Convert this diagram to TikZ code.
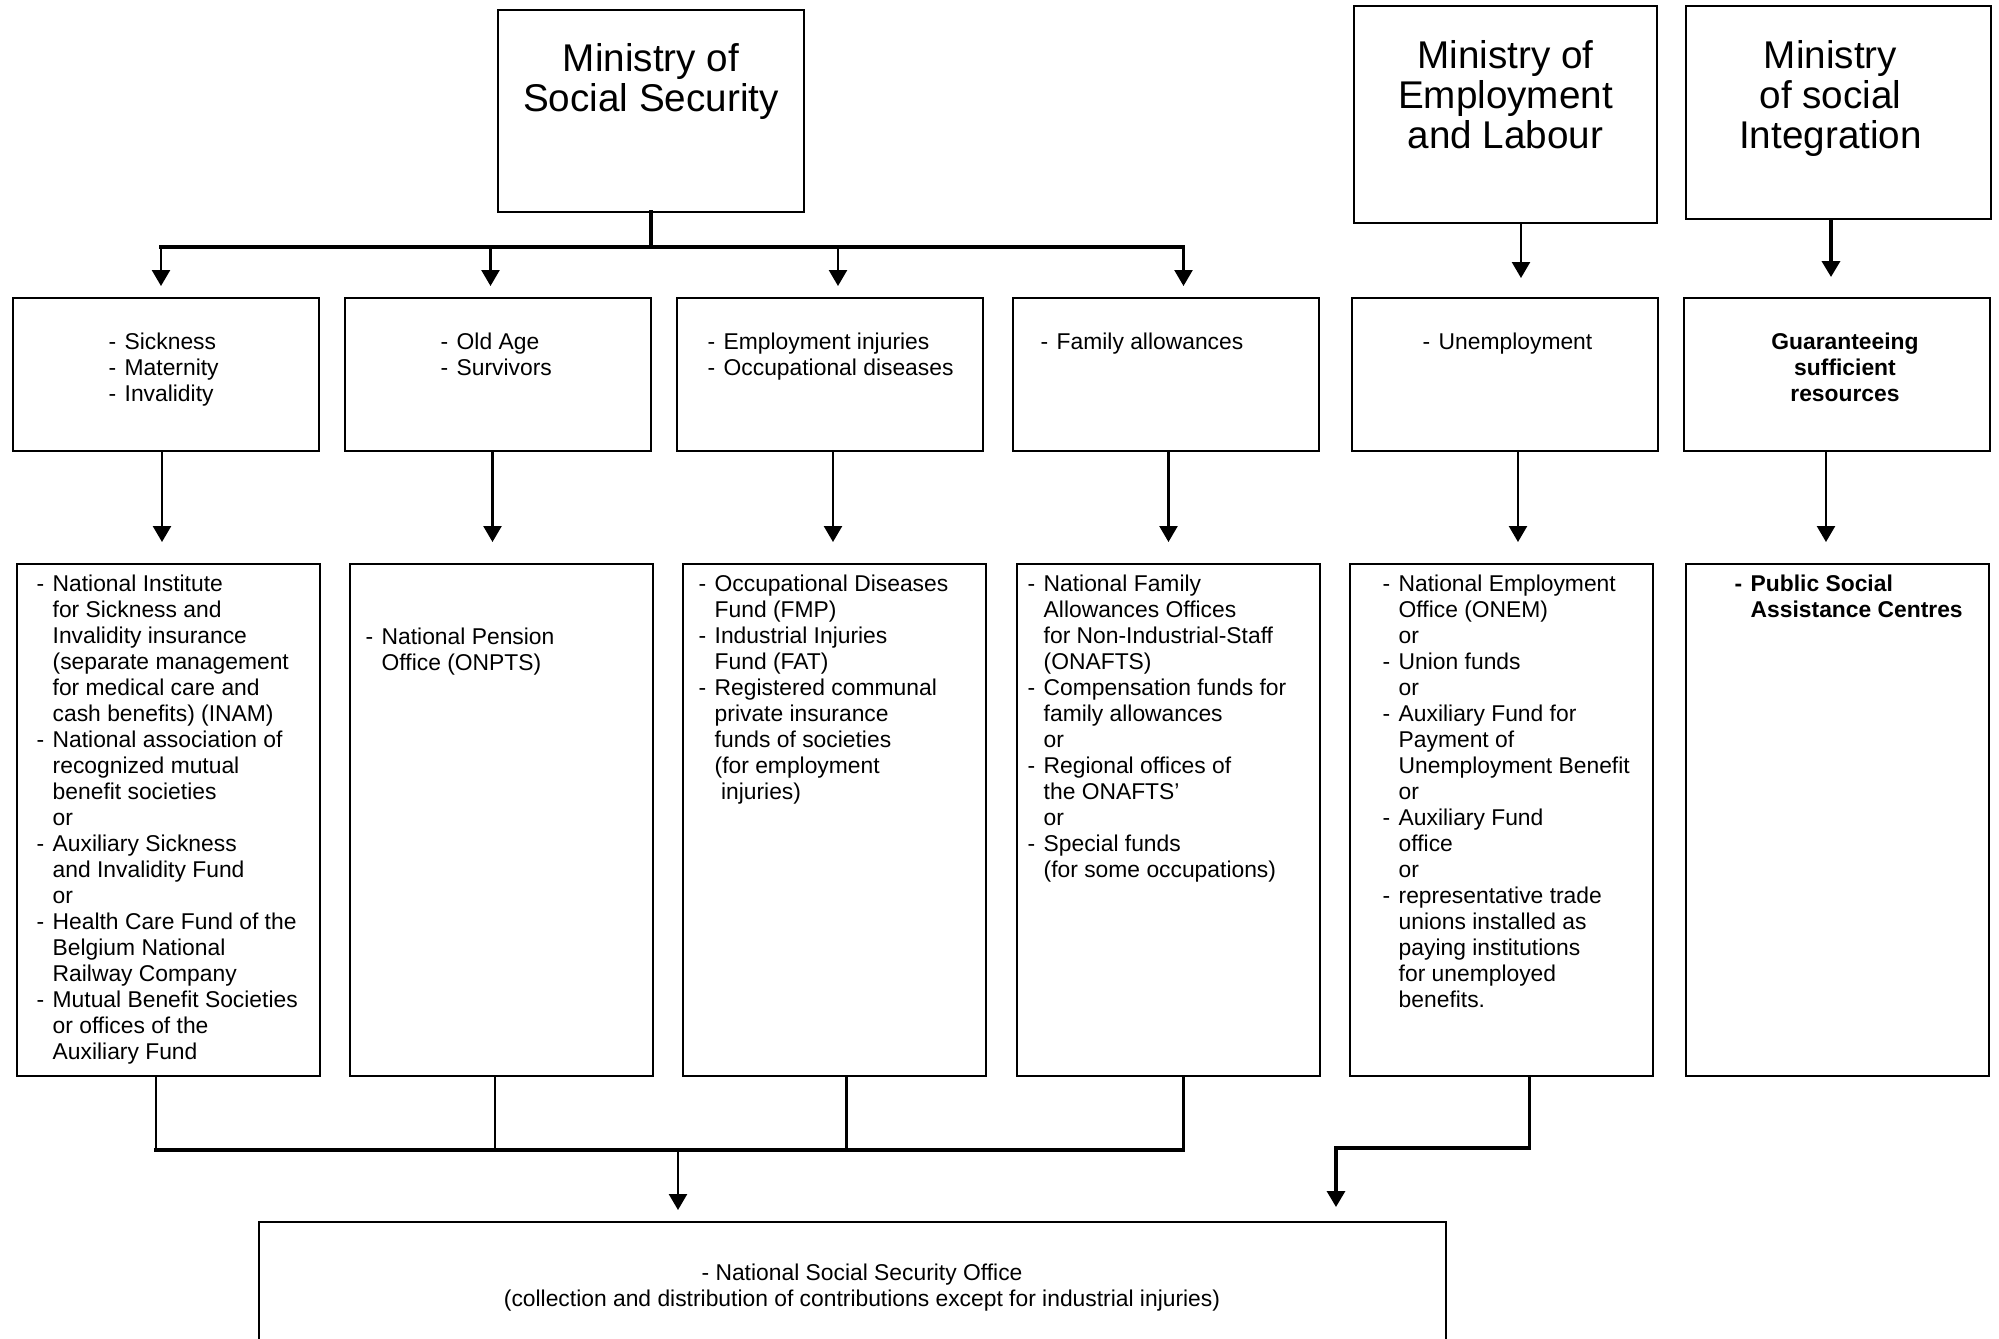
\documentclass[tikz,border=0pt]{standalone}
\usepackage{fontspec}
\setmainfont{Liberation Sans}
\usetikzlibrary{positioning,arrows.meta,calc}

\tikzset{
  org/box/.style={draw, line width=0.6pt, inner sep=0pt, outer sep=0pt, anchor=north west},
  org/row2/.style={org/box, minimum width=3.06cm, minimum height=1.53cm},
  org/row3/.style={org/box, minimum width=3.03cm, minimum height=5.12cm},
  org/title/.style={font=\fontsize{11}{11.3}\selectfont, align=center,
                    inner sep=0pt, anchor=north},
  org/txt/.style={font=\fontsize{6.5}{7.4}\selectfont, align=left,
                  inner sep=0pt, anchor=north west},
  org/bus/.style={line width=1pt, line cap=rect},
  org/arrow/.style={-{Triangle[length=1.6mm,width=1.8mm]}, line width=0.7pt},
}
\newcommand{\itm}{\makebox[0.7em][l]{-}}
\newcommand{\cont}{\hspace*{0.7em}}

\begin{document}
\begin{tikzpicture}

  \useasboundingbox (0,0) rectangle (19.99,-13.38);
  \clip (0,0) rectangle (19.99,-13.38);

  % ---------------- ministries ----------------
  \node[org/box, minimum width=3.06cm, minimum height=2.02cm] (mss) at (4.98,-0.10) {};
  \node[org/title] at ([yshift=-3.3mm]mss.north) {Ministry of\\Social Security};

  \node[org/box, minimum width=3.03cm, minimum height=2.17cm] (mel) at (13.54,-0.06) {};
  \node[org/title] at ([yshift=-3.4mm]mel.north) {Ministry of\\Employment\\and Labour};

  \node[org/box, minimum width=3.05cm, minimum height=2.13cm] (msi) at (16.86,-0.06) {};
  \node[org/title] at ([xshift=-0.8mm,yshift=-3.4mm]msi.north) {Ministry\\of social\\Integration};

  % ---------------- branches ----------------
  \node[org/row2] (sick) at (0.13,-2.98) {};
  \node[org/row2, right=2.6mm of sick] (age) {};
  \node[org/row2, right=2.6mm of age] (inj) {};
  \node[org/row2, right=3.0mm of inj] (fam) {};
  \node[org/row2, right=3.3mm of fam] (unem) {};
  \node[org/row2, right=2.6mm of unem] (guar) {};

  \node[org/txt] at ([xshift=9.5mm,yshift=-3.4mm]sick.north west)
    {\itm Sickness\\\itm Maternity\\\itm Invalidity};
  \node[org/txt] at ([xshift=9.5mm,yshift=-3.4mm]age.north west)
    {\itm Old Age\\\itm Survivors};
  \node[org/txt] at ([xshift=3.0mm,yshift=-3.4mm]inj.north west)
    {\itm Employment injuries\\\itm Occupational diseases};
  \node[org/txt] at ([xshift=2.7mm,yshift=-3.4mm]fam.north west)
    {\itm Family allowances};
  \node[org/txt] at ([xshift=7.0mm,yshift=-3.4mm]unem.north west)
    {\itm Unemployment};
  \node[org/txt, anchor=north, align=center, font=\fontsize{6.5}{7.4}\selectfont\bfseries]
    at ([xshift=0.8mm,yshift=-3.4mm]guar.north) {Guaranteeing\\sufficient\\resources};

  % ---------------- institutions ----------------
  \node[org/row3] (inst1) at (0.17,-5.64) {};
  \node[org/row3, right=3.0mm of inst1] (inst2) {};
  \node[org/row3, right=3.0mm of inst2] (inst3) {};
  \node[org/row3, right=3.1mm of inst3] (inst4) {};
  \node[org/row3, right=3.0mm of inst4] (inst5) {};
  \node[org/row3, right=3.3mm of inst5] (inst6) {};

  \node[org/txt] at ([xshift=1.9mm,yshift=-1.0mm]inst1.north west)
    {\itm National Institute\\
     \cont for Sickness and\\
     \cont Invalidity insurance\\
     \cont (separate management\\
     \cont for medical care and\\
     \cont cash benefits) (INAM)\\
     \itm National association of\\
     \cont recognized mutual\\
     \cont benefit societies\\
     \cont or\\
     \itm Auxiliary Sickness\\
     \cont and Invalidity Fund\\
     \cont or\\
     \itm Health Care Fund of the\\
     \cont Belgium National\\
     \cont Railway Company\\
     \itm Mutual Benefit Societies\\
     \cont or offices of the\\
     \cont Auxiliary Fund};
  \node[org/txt] at ([xshift=1.5mm,yshift=-6.3mm]inst2.north west)
    {\itm National Pension\\\cont Office (ONPTS)};
  \node[org/txt] at ([xshift=1.5mm,yshift=-1.0mm]inst3.north west)
    {\itm Occupational Diseases\\
     \cont Fund (FMP)\\
     \itm Industrial Injuries\\
     \cont Fund (FAT)\\
     \itm Registered communal\\
     \cont private insurance\\
     \cont funds of societies\\
     \cont (for employment\\
     \cont\ injuries)};
  \node[org/txt] at ([xshift=1.0mm,yshift=-1.0mm]inst4.north west)
    {\itm National Family\\
     \cont Allowances Offices\\
     \cont for Non-Industrial-Staff\\
     \cont (ONAFTS)\\
     \itm Compensation funds for\\
     \cont family allowances\\
     \cont or\\
     \itm Regional offices of\\
     \cont the ONAFTS'\\
     \cont or\\
     \itm Special funds\\
     \cont (for some occupations)};
  \node[org/txt] at ([xshift=3.2mm,yshift=-1.0mm]inst5.north west)
    {\itm National Employment\\
     \cont Office (ONEM)\\
     \cont or\\
     \itm Union funds\\
     \cont or\\
     \itm Auxiliary Fund for\\
     \cont Payment of\\
     \cont Unemployment Benefit\\
     \cont or\\
     \itm Auxiliary Fund\\
     \cont office\\
     \cont or\\
     \itm representative trade\\
     \cont unions installed as\\
     \cont paying institutions\\
     \cont for unemployed\\
     \cont benefits.};
  \node[org/txt, font=\fontsize{6.5}{7.4}\selectfont\bfseries]
    at ([xshift=4.8mm,yshift=-1.0mm]inst6.north west)
    {\itm Public Social\\\cont Assistance Centres};

  % ---------------- collection office ----------------
  \node[org/box, minimum width=11.87cm, minimum height=2.2cm] (nsso) at (2.59,-12.22) {};
  \node[org/txt, anchor=north, align=center] at ([xshift=0.95mm,yshift=-4.1mm]nsso.north)
    {- National Social Security Office\\
     (collection and distribution of contributions except for industrial injuries)};

  % ---------------- ministry -> branch edges ----------------
  \coordinate (topbus) at (0,-2.47);
  \draw[org/bus] (mss.south) -- (mss.south |- topbus);
  \draw[org/bus] ([xshift=-0.5mm]sick.north |- topbus) -- ([xshift=1.75mm]fam.north |- topbus);
  \foreach \b/\dx in {sick/-0.5mm, age/-0.75mm, inj/0.8mm, fam/1.75mm}
    \draw[org/arrow, shorten >=1.2mm] ([xshift=\dx]\b.north |- topbus) -- ([xshift=\dx]\b.north);

  \draw[org/arrow, shorten >=2.0mm] ([xshift=1.55mm]mel.south) -- ([xshift=1.55mm]mel.south |- unem.north);
  \draw[org/arrow, line width=1pt, shorten >=2.1mm] ([xshift=-0.75mm]msi.south) -- ([xshift=-0.75mm]msi.south |- guar.north);

  % ---------------- branch -> institution edges ----------------
  \foreach \a/\b/\dx in {sick/inst1/-0.4mm, age/inst2/-0.55mm, inj/inst3/0.3mm,
                         fam/inst4/0.25mm, unem/inst5/1.3mm, guar/inst6/-1.1mm}
    \draw[org/arrow, shorten >=2.2mm] ([xshift=\dx]\a.south) -- ([xshift=\dx]\a.south |- \b.north);

  % ---------------- institution -> office edges ----------------
  \coordinate (lowbus) at (0,-11.50);
  \foreach \b/\dx in {inst1/-1.25mm, inst2/-0.65mm, inst3/1.2mm, inst4/1.5mm}
    \draw[line width=0.7pt] ([xshift=\dx]\b.south) -- ([xshift=\dx]\b.south |- lowbus);
  \draw[org/bus] ([xshift=-1.25mm]inst1.south |- lowbus) -- ([xshift=1.5mm]inst4.south |- lowbus);
  \draw[org/arrow, shorten >=1.2mm] ([xshift=-17.45mm]nsso.north |- lowbus) -- ([xshift=-17.45mm]nsso.north);

  \draw[org/arrow, line width=0.9pt, shorten >=1.5mm]
    ([xshift=2.8mm]inst5.south) -- ++(0,-0.72) -| ([xshift=48.35mm]nsso.north);

\end{tikzpicture}
\end{document}
